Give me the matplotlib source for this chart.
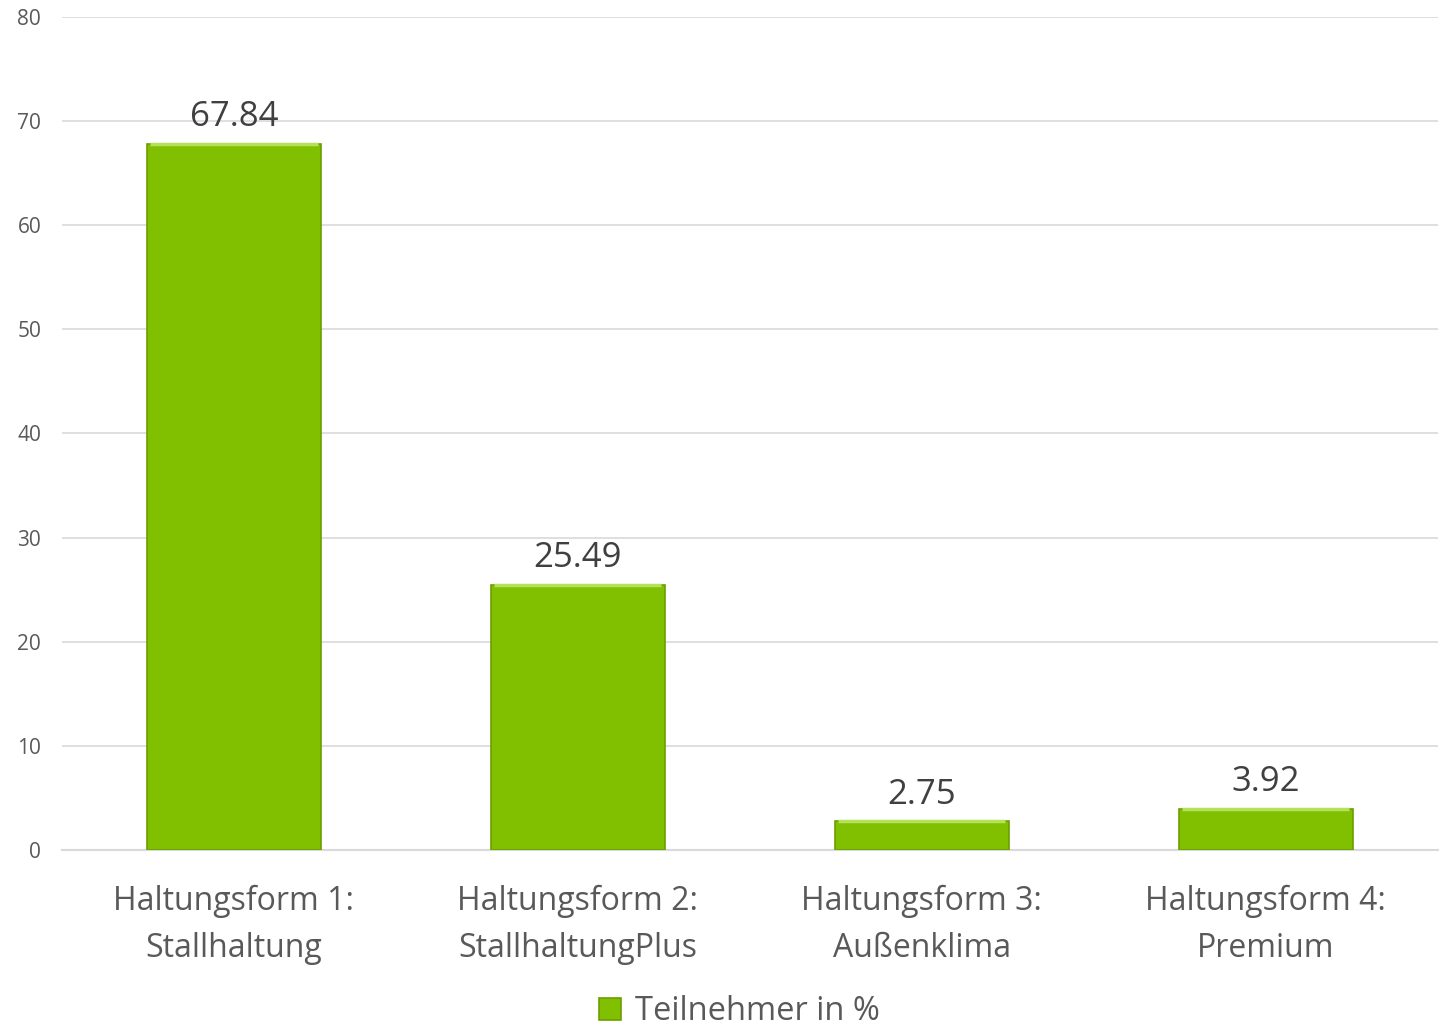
import matplotlib.pyplot as plt
import numpy as np

categories = ["Haltungsform 1:\nStallhaltung", "Haltungsform 2:\nStallhaltungPlus",
              "Haltungsform 3:\nAußenklima", "Haltungsform 4:\nPremium"]
values = [67.84, 25.49, 2.75, 3.92]
series_name = "Teilnehmer in %"
yticks = [0, 10, 20, 30, 40, 50, 60, 70, 80]

plt.rcParams['font.family'] = ['Open Sans', 'DejaVu Sans']

fig = plt.figure(figsize=(14.42, 10.30), dpi=100)
ax = fig.add_axes([0.043, 0.1748, 0.954, 0.8087])

x = np.arange(len(categories))
bars = ax.bar(x, values, width=0.506, color='#80c000', edgecolor='#6b9f00',
              linewidth=1.2, label=series_name, zorder=3)
# light top edge for a bevel look
for b in bars:
    ax.plot([b.get_x() + 0.01, b.get_x() + b.get_width() - 0.01],
            [b.get_height(), b.get_height()], color='#b5e05a', lw=2.5,
            solid_capstyle='butt', zorder=4)

for xi, v in zip(x, values):
    ax.annotate(f"{v:.2f}", (xi, v), xytext=(0, 7), textcoords='offset points',
                ha='center', va='bottom', fontsize=25, color='#404040')

ax.set_xlim(-0.5, len(categories) - 0.5)
ax.set_ylim(0, 80)
ax.set_yticks(yticks)
ax.set_xticks(x)
ax.set_xticklabels(categories, fontsize=23, color='#595959', linespacing=1.55)
ax.tick_params(axis='y', length=0, labelsize=15, colors='#595959', pad=15)
ax.tick_params(axis='x', length=0, pad=25)
ax.grid(axis='y', color='#d9d9d9', lw=1.2, zorder=0)
for s in ['top', 'right', 'left']:
    ax.spines[s].set_visible(False)
ax.spines['bottom'].set_color('#d9d9d9')
ax.spines['bottom'].set_linewidth(1.5)

fig.legend(handles=[bars], labels=[series_name], loc='lower center',
           bbox_to_anchor=(0.513, -0.027), frameon=False, fontsize=23.5,
           handlelength=0.65, handleheight=0.65, handletextpad=0.45,
           labelcolor='#595959')

fig.savefig('out.png', dpi=100)
